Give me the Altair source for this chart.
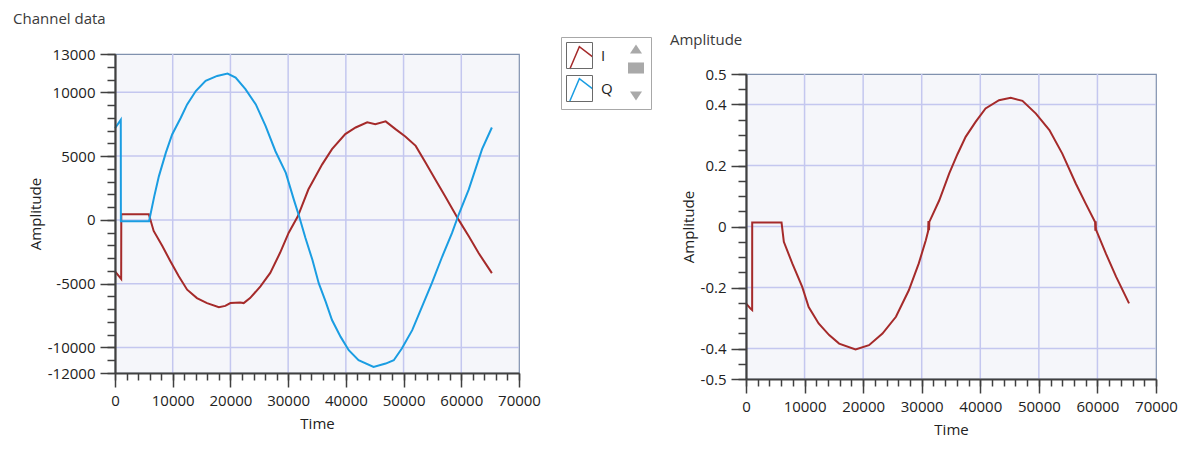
import altair as alt
import pandas as pd

# ---------------- data ----------------
SERIES = ["I", "Q"]
SERIES_COLORS = ["#a52a2a", "#1a9de2"]
BOX_KEYS = ["I box", "Q box"]

I_T = [0, 1070, 1090, 5860, 6700, 8200, 9600, 11050, 12500, 14200, 15950, 18000,
       19100, 20000, 21700, 22300, 23400, 25200, 26900, 28600, 30100, 31700,
       33500, 35900, 37600, 39900, 41700, 43700, 45100, 46900, 48600, 50300,
       52100, 53800, 55500, 57200, 59550, 61300, 63000, 65300]
I_V = [-4030, -4630, 450, 450, -870, -2050, -3240, -4420, -5470, -6130, -6520, -6840,
       -6740, -6520, -6480, -6520, -6130, -5210, -4160, -2580, -1000, 300,
       2380, 4350, 5540, 6720, 7240, 7640, 7500, 7720, 7110, 6540,
       5800, 4490, 3170, 1860, 0, -1290, -2600, -4170]

Q_T = [0, 1000, 1020, 5900, 6800, 7600, 8800, 9900, 11400, 12500, 14000, 15700,
       17700, 19500, 20900, 22600, 24400, 26100, 27800, 29600, 31000, 31900,
       33000, 34200, 35300, 36500, 37600, 39100, 40500, 42200, 44800, 46900,
       48300, 49700, 51500, 53200, 54900, 56700, 58400, 59550, 61300, 63600, 65300]
Q_V = [7180, 7840, -110, -110, 1840, 3410, 5250, 6690, 8000, 9050, 10100, 10890,
       11280, 11470, 11150, 10240, 9050, 7350, 5380, 3680, 1570, 290,
       -1420, -3130, -4960, -6410, -7850, -9170, -10210, -11000, -11530, -11260,
       -11000, -10080, -8640, -6800, -4960, -2870, -1020, 420, 2390, 5540, 7240]

A_T = [0, 770, 1050, 1060, 6070, 6460, 7900, 9600, 10700, 12400, 14200, 15900,
       18700, 21000, 23300, 25600, 27800, 29500, 30700, 31100, 31150, 31250, 31300,
       33000, 34700, 36100, 37500, 39200, 40900, 43200, 45200, 47200, 49500,
       51800, 54000, 56300, 58000, 59600, 59650, 59700, 59750, 61450, 63200, 65400]
A_V = [-0.252, -0.269, -0.274, 0.013, 0.013, -0.050, -0.121, -0.198, -0.264, -0.318,
       -0.356, -0.384, -0.403, -0.389, -0.351, -0.296, -0.209, -0.121, -0.045,
       -0.015, 0.018, -0.012, 0.015, 0.086, 0.174, 0.237, 0.294, 0.343, 0.387,
       0.414, 0.422, 0.412, 0.370, 0.316, 0.239, 0.141, 0.075, 0.015, -0.014,
       0.017, -0.010, -0.089, -0.165, -0.252]

X_DOMAIN = [0, 70000]
X_MAJOR = [0, 10000, 20000, 30000, 40000, 50000, 60000, 70000]
X_MINOR = list(range(0, 70001, 2000))
X_GRID = [10000, 20000, 30000, 40000, 50000, 60000]

L_Y_DOMAIN = [-12000, 13000]
L_Y_MAJOR = [13000, 10000, 5000, 0, -5000, -10000, -12000]
L_Y_MINOR = list(range(-12000, 13001, 1000))
L_Y_GRID = [10000, 5000, 0, -5000, -10000]

R_Y_DOMAIN = [-0.5, 0.5]
R_Y_MAJOR = [0.5, 0.4, 0.2, 0, -0.2, -0.4, -0.5]
R_Y_MINOR = [round(-0.5 + 0.05 * i, 2) for i in range(21)]
R_Y_GRID = [0.4, 0.2, 0, -0.2, -0.4]

LEFT_TITLE = "Channel data"
RIGHT_TITLE = "Amplitude"

# ---------------- styling ----------------
FONT = "Open Sans"
TXT = "#222222"
AXC = "#404040"
GRID = "#c4c7ef"
PLOT_BG = "#f5f6fa"
BORDER = "#8091ae"
MINUS_FIX = "replace(datum.label, '\u2212', '-')"
GLYPH = "M-0.78,1 L-0.05,-0.72 L0.95,0.05"

left_df = pd.DataFrame({
    "t": I_T + Q_T,
    "v": I_V + Q_V,
    "s": ["I"] * len(I_T) + ["Q"] * len(Q_T),
})
right_df = pd.DataFrame({"t": A_T, "v": A_V})
box_df = pd.DataFrame({"box": BOX_KEYS})

LEG_X, LEG_Y = 446, -17


def major_axis(values, orient, title, tick, pad, tpad, fmt):
    return alt.Axis(values=values, orient=orient, title=title, format=fmt,
                    labelExpr=MINUS_FIX, tickSize=tick, tickWidth=1.5, tickColor=AXC,
                    ticks=True, domainColor=AXC, domainWidth=2.2, labelFont=FONT,
                    labelFontSize=15, labelColor=TXT, labelPadding=pad,
                    labelFlush=False, labelOverlap=False, grid=False, titleFont=FONT,
                    titleFontSize=15, titleFontWeight="normal", titleColor=TXT,
                    titlePadding=tpad, zindex=1)


def minor_axis(values, orient, tick):
    return alt.Axis(values=values, orient=orient, title=None, labels=False,
                    domain=False, grid=False, tickSize=tick, tickWidth=1.5,
                    tickColor=AXC)


def panel(ydom, ymajor, yminor, ygrid, yfmt, line_layer_fn, extra, w, h):
    xs = alt.Scale(domain=X_DOMAIN, nice=False, zero=False)
    ys = alt.Scale(domain=ydom, nice=False, zero=False)
    ygrid_l = alt.Chart(pd.DataFrame({"g": ygrid})).mark_rule(
        color=GRID, strokeWidth=1.5).encode(
        y=alt.Y("g:Q", scale=ys, axis=minor_axis(yminor, "left", 8)))
    xgrid_l = alt.Chart(pd.DataFrame({"g": X_GRID})).mark_rule(
        color=GRID, strokeWidth=1.5).encode(
        x=alt.X("g:Q", scale=xs, axis=minor_axis(X_MINOR, "bottom", 7)))
    lines = line_layer_fn(
        alt.X("t:Q", scale=xs, axis=major_axis(X_MAJOR, "bottom", "Time", 14, 6, 8, "d")),
        alt.Y("v:Q", scale=ys, axis=major_axis(ymajor, "left", "Amplitude", 15, 5, 4, yfmt)),
    )
    return alt.layer(ygrid_l, xgrid_l, *lines, *extra).resolve_axis(
        x="independent", y="independent").properties(
        width=w, height=h,
        view=alt.ViewBackground(fill=PLOT_BG, stroke=BORDER, strokeWidth=1.2))


def left_lines(X, Y):
    line = alt.Chart(left_df).mark_line(strokeWidth=2).encode(
        x=X, y=Y,
        stroke=alt.Stroke("s:N", scale=alt.Scale(domain=SERIES, range=SERIES_COLORS),
                          legend=alt.Legend(orient="none", legendX=LEG_X, legendY=LEG_Y,
                                            title=None, symbolType=GLYPH, symbolSize=676,
                                            symbolStrokeWidth=1.5,
                                            symbolFillColor="transparent",
                                            labelFont=FONT, labelFontSize=15,
                                            labelOffset=8, labelOpacity=0,
                                            rowPadding=2, padding=5)))
    return [line]


def legend_frames():
    return alt.Chart(box_df).mark_point(opacity=0, color="#6a6a6a").encode(
        x=alt.value(0), y=alt.value(0),
        shape=alt.Shape("box:N", scale=alt.Scale(domain=BOX_KEYS, range=["square", "square"]),
                        legend=alt.Legend(orient="none", legendX=LEG_X, legendY=LEG_Y,
                                          title="xxx", titleOrient="right",
                                          titleOpacity=0, titleFont=FONT,
                                          titleFontSize=15, titlePadding=6,
                                          symbolSize=676, symbolOpacity=1,
                                          symbolStrokeWidth=1,
                                          symbolStrokeColor="#6a6a6a",
                                          symbolFillColor="transparent",
                                          labelFont=FONT, labelFontSize=15,
                                          labelColor=TXT, labelOffset=8,
                                          labelExpr="substring(datum.label, 0, 1)",
                                          rowPadding=2, padding=5,
                                          strokeColor="#a8a8a8")))


def right_lines(X, Y):
    return [alt.Chart(right_df).mark_line(strokeWidth=2, color=SERIES_COLORS[0]).encode(x=X, y=Y)]


one = pd.DataFrame({"a": [0]})


def title_text(txt, x, y):
    return alt.Chart(one).mark_text(align="left", baseline="alphabetic", font=FONT,
                                    fontSize=15, color="#3a3a3a").encode(
        x=alt.value(x), y=alt.value(y), text=alt.value(txt))


def scroll_btn(path, size, x, y):
    return alt.Chart(one).mark_point(filled=True, color="#a9a9a9", opacity=1).encode(
        x=alt.value(x), y=alt.value(y), shape=alt.value(path), size=alt.value(size))


left_extra = [
    legend_frames(),
    title_text(LEFT_TITLE, -102, -30),
    scroll_btn("M-1,0.75L1,0.75L0,-0.75Z", 144, 521, -5),
    scroll_btn("M-1,-0.69L1,-0.69L1,0.69L-1,0.69Z", 256, 521, 14),
    scroll_btn("M-1,-0.75L1,-0.75L0,0.75Z", 144, 521, 42),
]
right_extra = [title_text(RIGHT_TITLE, -76, -29)]

left = panel(L_Y_DOMAIN, L_Y_MAJOR, L_Y_MINOR, L_Y_GRID, "d",
             left_lines, left_extra, 404, 319)
right = panel(R_Y_DOMAIN, R_Y_MAJOR, R_Y_MINOR, R_Y_GRID, "~g",
              right_lines, right_extra, 410, 305)

spacer = alt.Chart(one).mark_point(opacity=0).encode(
    x=alt.value(0), y=alt.value(0)).properties(
    width=410, height=20, view=alt.ViewBackground(stroke="transparent", fill="transparent"))

right_col = alt.vconcat(spacer, right, spacing=0, bounds="flush")

chart = alt.hconcat(left, right_col, spacing=227, bounds="flush").properties(
    padding={"left": 12, "top": 11, "right": 4, "bottom": 4},
    background="white",
).configure_view(stroke="transparent").configure(font=FONT)

chart.save("out.html", embed_options={"renderer": "svg", "actions": False})
